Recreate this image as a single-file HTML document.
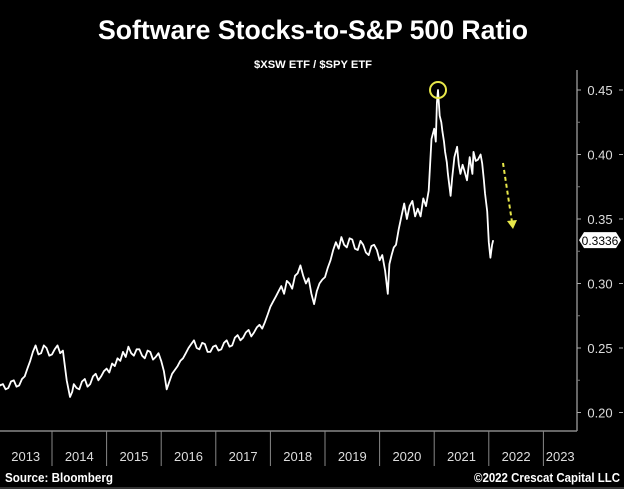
<!DOCTYPE html>
<html><head><meta charset="utf-8"><style>
html,body{margin:0;padding:0;background:#000;}
svg{display:block;}
text{font-family:"Liberation Sans",sans-serif;}
</style></head><body>
<svg id="chart" width="624" height="489" viewBox="0 0 624 489">
<rect x="0" y="0" width="624" height="489" fill="#000"/>
<text x="313" y="39" text-anchor="middle" font-size="27" font-weight="bold" fill="#fff" textLength="430" lengthAdjust="spacingAndGlyphs">Software Stocks-to-S&amp;P 500 Ratio</text>
<text x="313" y="68" text-anchor="middle" font-size="11" font-weight="bold" fill="#fff" textLength="118" lengthAdjust="spacingAndGlyphs">$XSW ETF / $SPY ETF</text>
<line x1="577" y1="70" x2="577" y2="431" stroke="#888" stroke-width="1.5"/>
<line x1="0" y1="431" x2="577" y2="431" stroke="#888" stroke-width="1.5"/>
<g id="yaxis"></g>
<g id="xaxis"></g>
<path id="series" fill="none" stroke="#fff" stroke-width="1.8" stroke-linejoin="round"/>
<circle id="peak" r="8" fill="none" stroke="#e8e84a" stroke-width="2"/>
<g>
<line x1="503" y1="163" x2="512" y2="222" stroke="#e8e84a" stroke-width="2" stroke-dasharray="4,3"/>
<polygon points="507,221 517,220 513,229" fill="#e8e84a"/>
</g>
<g id="lastlabel"></g>
<text x="5" y="482" font-size="13" font-weight="bold" fill="#fff" textLength="108" lengthAdjust="spacingAndGlyphs">Source: Bloomberg</text>
<text x="620" y="482" text-anchor="end" font-size="13" font-weight="bold" fill="#fff" textLength="146" lengthAdjust="spacingAndGlyphs">©2022 Crescat Capital LLC</text>
<line x1="0" y1="488" x2="624" y2="488" stroke="#666" stroke-width="1"/>
</svg>
<script>
const years = [2013,2014,2015,2016,2017,2018,2019,2020,2021,2022,2023];
const yTicks = [0.20,0.25,0.30,0.35,0.40,0.45];
const yTickLabels = ["0.20","0.25","0.30","0.35","0.40","0.45"];
const dates = [2013.0,2013.05,2013.1,2013.15,2013.2,2013.25,2013.3,2013.35,2013.4,2013.45,2013.5,2013.55,2013.6,2013.65,2013.7,2013.75,2013.8,2013.85,2013.9,2013.95,
2014.0,2014.05,2014.1,2014.15,2014.2,2014.27,2014.33,2014.37,2014.4,2014.45,2014.5,2014.55,2014.6,2014.65,2014.7,2014.75,2014.8,2014.85,2014.9,2014.95,
2015.0,2015.05,2015.1,2015.15,2015.2,2015.25,2015.3,2015.35,2015.4,2015.45,2015.5,2015.55,2015.6,2015.65,2015.7,2015.75,2015.8,2015.85,2015.9,2015.95,
2016.0,2016.05,2016.1,2016.15,2016.2,2016.25,2016.3,2016.35,2016.4,2016.45,2016.5,2016.55,2016.6,2016.65,2016.7,2016.75,2016.8,2016.85,2016.9,2016.95,
2017.0,2017.05,2017.1,2017.15,2017.2,2017.25,2017.3,2017.35,2017.4,2017.45,2017.5,2017.55,2017.6,2017.65,2017.7,2017.75,2017.8,2017.85,2017.9,2017.95,
2018.0,2018.05,2018.1,2018.15,2018.2,2018.25,2018.3,2018.35,2018.4,2018.45,2018.5,2018.55,2018.6,2018.65,2018.7,2018.75,2018.8,2018.85,2018.9,2018.95,
2019.0,2019.05,2019.1,2019.15,2019.2,2019.25,2019.3,2019.35,2019.4,2019.45,2019.5,2019.55,2019.6,2019.65,2019.7,2019.75,2019.8,2019.85,2019.9,2019.95,
2020.0,2020.05,2020.1,2020.15,2020.18,2020.22,2020.26,2020.3,2020.35,2020.4,2020.45,2020.5,2020.55,2020.6,2020.65,2020.7,2020.75,2020.8,2020.85,2020.9,2020.95,
2021.0,2021.03,2021.05,2021.07,2021.1,2021.13,2021.15,2021.18,2021.2,2021.23,2021.25,2021.3,2021.33,2021.37,2021.42,2021.45,2021.48,2021.52,2021.55,2021.6,2021.65,2021.7,2021.72,2021.76,2021.8,2021.85,2021.88,2021.91,2021.93,2021.97,
2022.0,2022.03,2022.06,2022.08];
const values = [.224,.221,.222,.218,.219,.224,.225,.220,.221,.226,.228,.234,.240,.247,.252,.245,.246,.252,.250,.244,
.245,.249,.252,.246,.248,.225,.212,.216,.222,.219,.218,.224,.226,.220,.222,.228,.230,.225,.228,.232,
.234,.231,.238,.236,.242,.240,.247,.243,.251,.246,.244,.249,.249,.244,.242,.248,.247,.241,.243,.246,
.240,.232,.218,.224,.230,.233,.236,.240,.242,.246,.250,.253,.256,.250,.249,.254,.253,.247,.247,.251,
.252,.248,.249,.254,.256,.251,.252,.258,.260,.256,.258,.262,.264,.259,.262,.266,.268,.265,.270,.276,
.282,.286,.290,.294,.298,.292,.302,.300,.296,.306,.308,.314,.306,.300,.304,.292,.284,.294,.300,.303,
.305,.312,.318,.326,.332,.327,.336,.330,.328,.335,.334,.327,.326,.333,.330,.324,.322,.329,.330,.326,
.318,.322,.310,.292,.315,.322,.328,.330,.342,.352,.362,.350,.360,.364,.352,.358,.352,.366,.360,.372,.412,
.420,.410,.440,.450,.430,.425,.418,.410,.402,.394,.385,.368,.382,.398,.406,.392,.385,.392,.388,.380,.398,.385,.402,.395,.396,.400,.393,.380,.370,.356,
.332,.320,.330,.3336];
const lastValue = 0.3336;

const NS="http://www.w3.org/2000/svg";
function xS(t){return 52+(t-2014)*54.6;}
function yS(v){return 90+(0.45-v)/0.05*64.5;}
function mk(tag,attrs,parent){const e=document.createElementNS(NS,tag);for(const k in attrs)e.setAttribute(k,attrs[k]);parent.appendChild(e);return e;}

const ya=document.getElementById('yaxis');
yTicks.forEach((v,i)=>{
  const y=yS(v);
  const l1=mk('line',{x1:577,y1:y,x2:581,y2:y,stroke:'#aaa'},ya);
  
  
  const t=mk('text',{x:600,y:y+5,'text-anchor':'middle','font-size':13,fill:'#ddd'},ya);
  
  
  t.textContent=yTickLabels[i];
  const l2=mk('line',{x1:619,y1:y,x2:623,y2:y,stroke:'#aaa'},ya);
  
  
  if(i<yTicks.length-1){
    const ym=yS(v+0.025);
    const m=mk('line',{x1:577,y1:ym,x2:580,y2:ym,stroke:'#777'},ya);
    
    
  }
});

const xa=document.getElementById('xaxis');
years.forEach((yr,i)=>{
  const x0=xS(yr), x1=Math.min(xS(yr+1),577);
  if(i>0){
    const d=mk('line',{x1:x0,y1:431,x2:x0,y2:466,stroke:'#888'},xa);
    
    
  }
  const t=mk('text',{x:(x0+x1)/2+(i===0?1:0),y:461,'text-anchor':'middle','font-size':13,fill:'#ddd'},xa);
  
  
  t.textContent=String(yr);
});

let d='';
dates.forEach((t,i)=>{d+=(i?'L':'M')+xS(t).toFixed(1)+','+yS(values[i]).toFixed(1);});
document.getElementById('series').setAttribute('d',d);

let pi=0;values.forEach((v,i)=>{if(v>values[pi])pi=i;});
const pk=document.getElementById('peak');
pk.setAttribute('cx',xS(dates[pi]));pk.setAttribute('cy',yS(values[pi]));

const lb=document.getElementById('lastlabel');
const ly=yS(lastValue);
const poly=mk('polygon',{points:`579,${ly} 584,${ly-8} 616,${ly-8} 621,${ly} 616,${ly+8} 584,${ly+8}`,fill:'#fff'},lb);


const lt=mk('text',{x:600,y:ly+5,'text-anchor':'middle','font-size':12,fill:'#000'},lb);


lt.textContent=lastValue.toFixed(4);
</script>
</body></html>
